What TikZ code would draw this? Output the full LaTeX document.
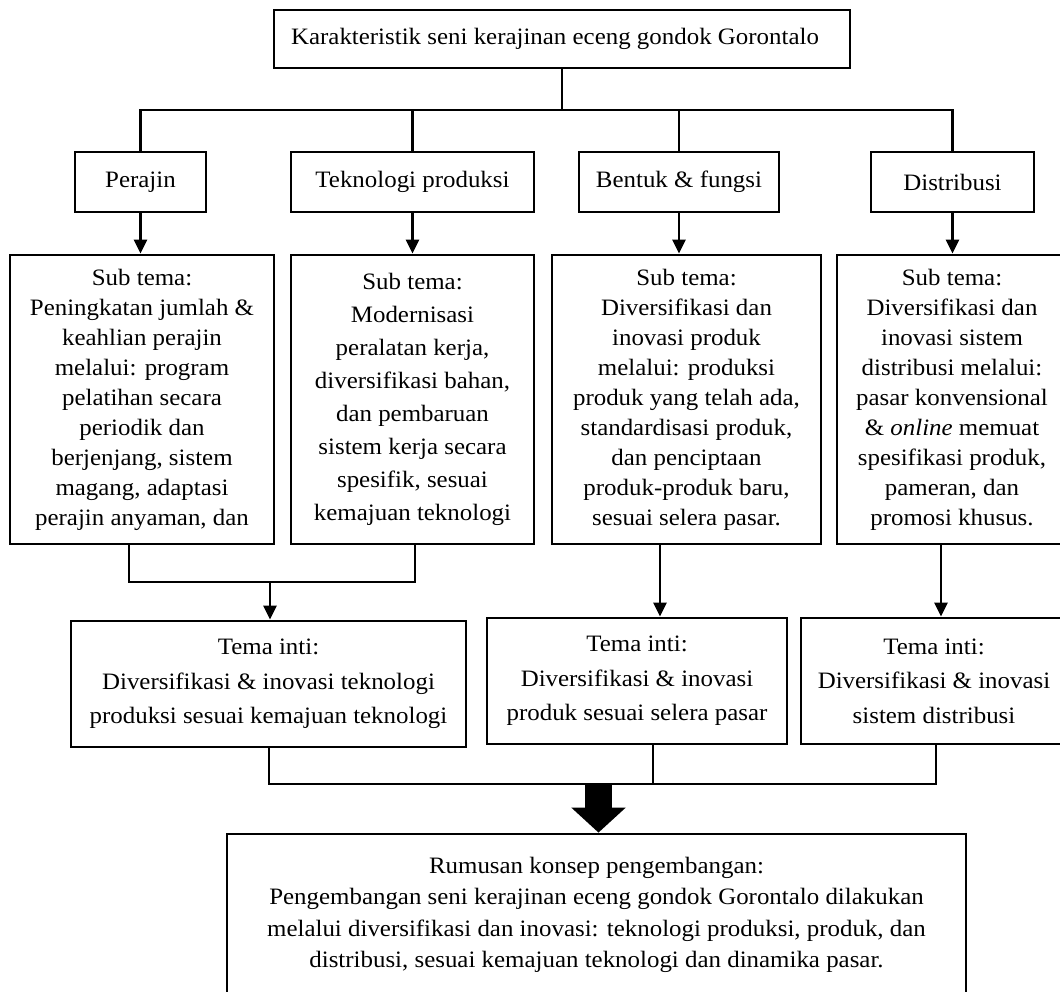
\documentclass[tikz,border=0pt]{standalone}
\usepackage{fontspec}
\setmainfont{Liberation Serif}[FakeStretch=1.06]
\usetikzlibrary{arrows.meta}
\tikzset{
  box/.style={draw, line width=2.8pt, rectangle, inner sep=0pt, align=center,
    font=\fontsize{23.5}{30}\selectfont},
  conn/.style={line width=2.6pt},
  arr/.style={conn, -{Triangle[width=13pt,length=14pt]}},
  bigarr/.style={line width=27pt, -{Triangle[width=53pt,length=25pt]}},
}
\begin{document}
\begin{tikzpicture}[x=1pt,y=-1pt]
\useasboundingbox (0,0) rectangle (1060,992);
\clip (0,0) rectangle (1060,992);

% top
\node[box, minimum width=576pt, minimum height=58pt] (top) at (562,39)
  {Karakteristik seni kerajinan eceng gondok Gorontalo\hspace*{14pt}};

% row 2
\node[box, minimum width=131pt, minimum height=60pt] (r1) at (140.5,182) {Perajin};
\node[box, minimum width=243pt, minimum height=60pt] (r2) at (412.5,182) {Teknologi produksi};
\node[box, minimum width=200pt, minimum height=60pt] (r3) at (679,182) {Bentuk \& fungsi};
\node[box, minimum width=163pt, minimum height=60pt] (r4) at (952.5,182) {Distribusi};

% sub tema
\node[box, minimum width=264pt, minimum height=289pt] (s1) at (142,399.5)
  {Sub tema:\\ Peningkatan jumlah \&\\ keahlian perajin\\ melalui: program\\ pelatihan secara\\ periodik dan\\ berjenjang, sistem\\ magang, adaptasi\\ perajin anyaman, dan};
\node[box, minimum width=243pt, minimum height=289pt, font=\fontsize{23.5}{33}\selectfont] (s2) at (412.5,399.5)
  {Sub tema:\\ Modernisasi\\ peralatan kerja,\\ diversifikasi bahan,\\ dan pembaruan\\ sistem kerja secara\\ spesifik, sesuai\\ kemajuan teknologi};
\node[box, minimum width=269pt, minimum height=289pt] (s3) at (686.5,399.5)
  {Sub tema:\\ Diversifikasi dan\\ inovasi produk\\ melalui: produksi\\ produk yang telah ada,\\ standardisasi produk,\\ dan penciptaan\\ produk-produk baru,\\ sesuai selera pasar.};
\node[box, minimum width=230pt, minimum height=289pt] (s4) at (952,399.5)
  {Sub tema:\\ Diversifikasi dan\\ inovasi sistem\\ distribusi melalui:\\ pasar konvensional\\ \& \emph{online} memuat\\ spesifikasi produk,\\ pameran, dan\\ promosi khusus.};

% tema inti
\node[box, minimum width=395pt, minimum height=126pt, font=\fontsize{23.5}{34.5}\selectfont] (t1) at (268.5,684)
  {Tema inti:\\ Diversifikasi \& inovasi teknologi\\ produksi sesuai kemajuan teknologi};
\node[box, minimum width=300pt, minimum height=126pt, font=\fontsize{23.5}{34.5}\selectfont] (t2) at (637,681)
  {Tema inti:\\ Diversifikasi \& inovasi\\ produk sesuai selera pasar};
\node[box, minimum width=266pt, minimum height=126pt, font=\fontsize{23.5}{34.5}\selectfont] (t3) at (934,681)
  {Tema inti:\\ Diversifikasi \& inovasi\\ sistem distribusi};

% final
\node[box, minimum width=739pt, minimum height=162pt, font=\fontsize{23.5}{31.3}\selectfont] (fin) at (596.5,915)
  {Rumusan konsep pengembangan:\\ Pengembangan seni kerajinan eceng gondok Gorontalo dilakukan\\ melalui diversifikasi dan inovasi: teknologi produksi, produk, dan\\ distribusi, sesuai kemajuan teknologi dan dinamika pasar.};

% connectors top -> row 2
\coordinate (h) at (562,110);
\draw[conn] (top.south) -- (h);
\draw[conn] (r1.north) |- (h) -| (r4.north);
\draw[conn] (r2.north) -- (r2.north |- h);
\draw[conn] (r3.north) -- (r3.north |- h);

% row 2 -> sub tema
\draw[arr] (r1.south) -- (r1.south |- s1.north);
\draw[arr] (r2.south) -- (r2.south |- s2.north);
\draw[arr] (r3.south) -- (r3.south |- s3.north);
\draw[arr] (r4.south) -- (r4.south |- s4.north);

% sub tema -> tema inti
\coordinate (b1) at ([xshift=-13pt]s1.south);
\coordinate (b2) at ([xshift=2.5pt]s2.south);
\coordinate (b3) at ([xshift=-26.5pt]s3.south);
\coordinate (b4) at ([xshift=-11pt]s4.south);
\coordinate (j1) at (270,582);
\draw[conn] (b1) |- (j1) -| (b2);
\draw[arr] (j1) -- (j1 |- t1.north);
\draw[arr] (b3) -- (b3 |- t2.north);
\draw[arr] (b4) -- (b4 |- t3.north);

% tema inti -> final
\coordinate (c1) at ([xshift=0.5pt]t1.south);
\coordinate (c2) at ([xshift=16pt]t2.south);
\coordinate (c3) at ([xshift=2pt]t3.south);
\coordinate (j2) at (598.5,784);
\draw[conn] (c1) |- (j2) -| (c3);
\draw[conn] (c2) -- (c2 |- j2);
\draw[bigarr] (j2) -- (j2 |- fin.north);
\end{tikzpicture}
\end{document}
